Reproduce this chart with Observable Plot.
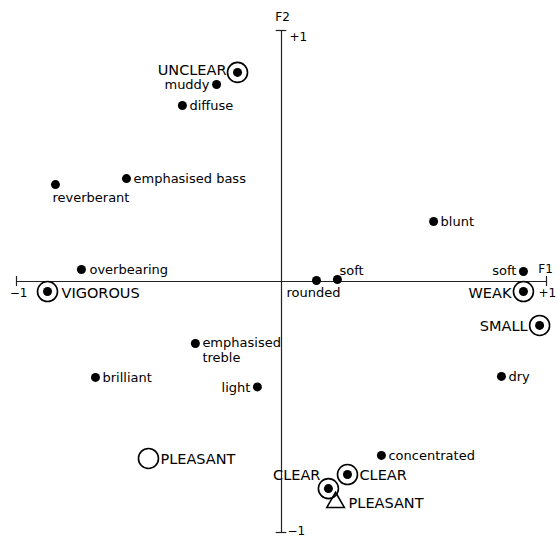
<!DOCTYPE html>
<html><head><meta charset="utf-8">
<script src="https://cdn.jsdelivr.net/npm/d3@7"></script>
<script src="https://cdn.jsdelivr.net/npm/@observablehq/plot@0.6"></script>
<style>body{margin:0;background:#fff}</style>
</head><body><div id="chart"></div>
<script>
const terms = ["UNCLEAR","muddy","diffuse","emphasised bass","reverberant","blunt","overbearing","VIGOROUS","rounded","soft","soft","WEAK","SMALL","emphasised\ntreble","brilliant","light","dry","PLEASANT","concentrated","CLEAR","CLEAR","PLEASANT"];
const f1 = [-0.166,-0.245,-0.374,-0.585,-0.853,0.574,-0.755,-0.883,0.132,0.211,0.913,0.913,0.974,-0.325,-0.702,-0.091,0.830,-0.502,0.377,0.249,0.177,0.204];
const f2 = [0.833,0.785,0.701,0.410,0.386,0.239,0.048,-0.040,0.004,0.008,0.040,-0.040,-0.175,-0.247,-0.382,-0.420,-0.378,-0.705,-0.693,-0.769,-0.825,-0.880];
const kinds = ["ringed","dot","dot","dot","dot","dot","dot","ringed","dot","dot","dot","ringed","ringed","dot","dot","dot","dot","ring","dot","ringed","ringed","triangle"];
const axisLabels = ["F1","F2","+1","−1","+1","−1"];

const data = terms.map((t,i)=>({term:t,f1:f1[i],f2:f2[i],kind:kinds[i]}));

// label placement: [dx, dy, anchor]
const place = [
  [-11,-3,"end"],[-7,0,"end"],[7,0,"start"],[7,0,"start"],[-3,13,"start"],
  [7,0,"start"],[8,0,"start"],[14,1,"start"],[-30,12,"start"],[2,-9,"start"],
  [-7,-1,"end"],[-12,1,"end"],[-12,0,"end"],[7,-7,"start"],[7,0,"start"],
  [-7,0,"end"],[7,0,"start"],[12,0,"start"],[7,0,"start"],[12,0,"start"],
  [-8,-14,"end"],[13,0,"start"]
];

const font = "DejaVu Sans, sans-serif";
const labelMarks = data.map((d,i)=>{
  const [dx,dy,anchor] = place[i];
  const upper = d.term === d.term.toUpperCase();
  return Plot.text([d], {x:"f1", y:"f2", text:"term", dx, dy, textAnchor:anchor,
    lineAnchor: d.term.includes("\n") ? "top" : "middle", lineHeight:1.15,
    fontSize: upper ? 14.5 : 13, fill:"#000"});
});

const axisPos = [
  {t:axisLabels[0], x:1, y:0, dx:-1, dy:-12, a:"middle"},
  {t:axisLabels[1], x:0, y:1, dx:1, dy:-13, a:"middle"},
  {t:axisLabels[2], x:1, y:0, dx:-8, dy:12, a:"start"},
  {t:axisLabels[3], x:-1, y:0, dx:2, dy:12, a:"middle"},
  {t:axisLabels[4], x:0, y:1, dx:8, dy:7, a:"start"},
  {t:axisLabels[5], x:0, y:-1, dx:6, dy:-1, a:"start"}
];
const axisMarks = axisPos.map(p => Plot.text([p], {x:"x", y:"y", text:"t", dx:p.dx, dy:p.dy, textAnchor:p.a, fontSize:12, fill:"#000"}));

const chart = Plot.plot({
  width:560, height:538,
  marginLeft:16, marginRight:14, marginTop:30, marginBottom:6,
  x:{domain:[-1,1], axis:null},
  y:{domain:[-1,1], axis:null},
  style:{fontFamily:font, background:"#fff"},
  marks:[
    Plot.ruleY([0], {x1:-1, x2:1, stroke:"#222", strokeWidth:1.2}),
    Plot.ruleX([0], {y1:-1, y2:1, stroke:"#222", strokeWidth:1.2}),
    Plot.ruleX([-1,1], {y1:-0.02, y2:0.02, stroke:"#222", strokeWidth:1.2}),
    Plot.ruleY([-1,1], {x1:-0.02, x2:0.02, stroke:"#222", strokeWidth:1.2}),
    Plot.dot(data.filter(d=>d.kind==="dot"||d.kind==="ringed"), {x:"f1", y:"f2", r:4.5, fill:"#000", stroke:"none"}),
    Plot.dot(data.filter(d=>d.kind==="ringed"||d.kind==="ring"), {x:"f1", y:"f2", r:10, fill:"none", stroke:"#000", strokeWidth:1.6}),
    Plot.dot(data.filter(d=>d.kind==="triangle"), {x:"f1", y:"f2", r:6.5, symbol:"triangle", fill:"none", stroke:"#000", strokeWidth:1.6}),
    ...labelMarks,
    ...axisMarks
  ]
});
document.getElementById("chart").append(chart);
</script>
</body></html>
